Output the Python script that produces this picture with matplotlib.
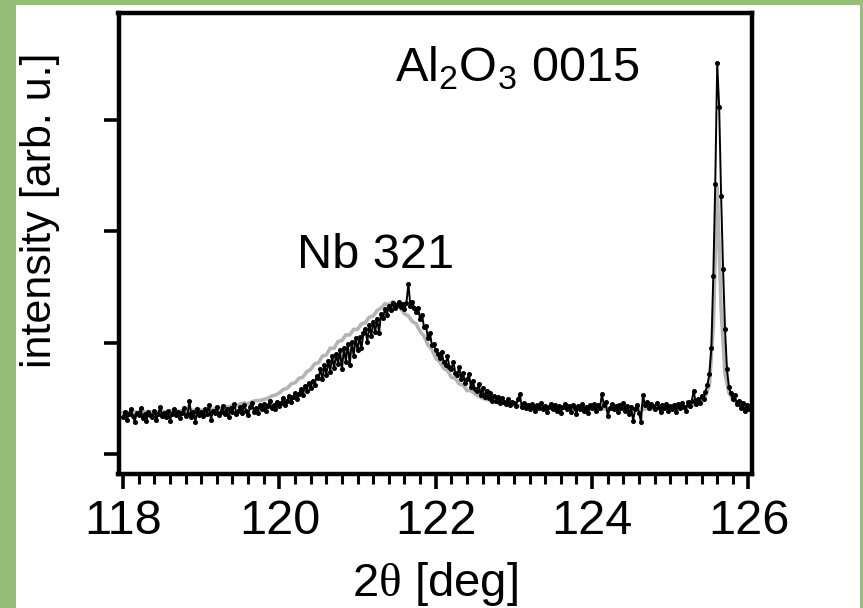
import numpy as np
import matplotlib
matplotlib.use("Agg")
import matplotlib.pyplot as plt
from matplotlib.patches import Rectangle
from matplotlib.ticker import MultipleLocator, NullFormatter

plt.rcParams["font.family"] = ["Liberation Sans", "DejaVu Sans"]
plt.rcParams["mathtext.fontset"] = "custom"
plt.rcParams["mathtext.rm"] = "Liberation Serif"
plt.rcParams["mathtext.sf"] = "Liberation Sans"

# 2theta scan of the Nb film (black, 0.025 deg steps from 118 deg)
scan_start = 118.0
film_step = 0.025
film_counts = [
    33, 38, 31, 36, 40, 34, 29, 37, 35, 41,
    32, 36, 30, 38, 35, 33, 39, 31, 36, 42,
    34, 37, 33, 39, 30, 36, 40, 35, 38, 32,
    37, 41, 34, 36, 48, 33, 38, 29, 40, 35,
    38, 34, 40, 36, 44, 31, 39, 37, 42, 35,
    38, 43, 36, 40, 33, 41, 38, 45, 36, 39,
    42, 37, 44, 39, 35, 42, 46, 38, 41, 37,
    44, 40, 45, 39, 43, 48, 41, 44, 40, 47,
    43, 46, 50, 44, 48, 52, 47, 51, 55, 49,
    54, 58, 53, 61, 57, 64, 59, 66, 62, 70,
    68, 76, 67, 80, 71, 84, 74, 88, 77, 90,
    81, 93, 76, 95, 83, 99, 80, 101, 88, 104,
    93, 105, 95, 109, 112, 101, 116, 106, 119, 110,
    121, 109, 126, 122, 130, 125, 133, 129, 136, 131,
    134, 137, 132, 135, 130, 136, 153, 133, 137, 131,
    128, 131, 121, 125, 114, 115, 104, 109, 98, 99,
    93, 90, 86, 92, 83, 80, 88, 78, 76, 83,
    73, 71, 78, 67, 73, 64, 67, 72, 60, 66,
    58, 57, 63, 53, 59, 51, 57, 50, 55, 48,
    52, 48, 51, 46, 50, 47, 45, 49, 44, 47,
    46, 43, 49, 54, 42, 46, 41, 44, 40, 45,
    42, 39, 44, 41, 46, 40, 43, 38, 42, 45,
    40, 44, 39, 43, 37, 42, 45, 40, 43, 38,
    44, 41, 36, 43, 40, 45, 39, 42, 37, 44,
    41, 45, 39, 44, 41, 54, 44, 47, 34, 41,
    45, 40, 43, 38, 44, 41, 46, 39, 43, 36,
    42, 30, 40, 44, 37, 29, 53, 44, 47, 41,
    45, 43, 40, 46, 42, 38, 44, 41, 45, 39,
    43, 40, 44, 38, 45, 41, 46, 42, 39, 47,
    43, 48, 57, 45, 49, 46, 52, 49, 56, 62,
    72, 95, 160, 243, 351, 312, 232, 166, 112, 76,
    60, 55, 49, 53, 45, 48, 41, 46, 39, 44,
    40,
]

# reference scan (grey, 0.05 deg steps from 118 deg)
ref_step = 0.05
ref_counts = [
    37, 38, 36, 38, 37, 39, 37, 38, 36, 38,
    39, 37, 38, 40, 38, 39, 38, 40, 39, 41,
    39, 40, 41, 40, 42, 41, 43, 42, 44, 43,
    45, 46, 45, 47, 48, 48, 49, 50, 52, 53,
    55, 58, 59, 63, 64, 68, 69, 74, 76, 81,
    82, 88, 89, 95, 95, 101, 102, 107, 107, 112,
    112, 117, 118, 123, 124, 129, 131, 135, 134, 137,
    133, 131, 126, 124, 119, 117, 110, 106, 98, 94,
    86, 83, 77, 75, 69, 68, 63, 62, 57, 57,
    54, 52, 50, 49, 48, 47, 46, 46, 45, 45,
    44, 43, 44, 43, 42, 43, 42, 43, 41, 42,
    42, 41, 42, 41, 40, 41, 40, 41, 40, 41,
    40, 41, 40, 41, 40, 41, 40, 41, 40, 41,
    41, 40, 41, 40, 41, 40, 41, 41, 40, 41,
    41, 42, 41, 42, 42, 43, 44, 45, 47, 52,
    62, 115, 240, 130, 72, 55, 49, 46, 44, 43,
    42,
]

x_ticks = [118, 120, 122, 124, 126]
y_ticks = [0, 100, 200, 300]

film_x = scan_start + film_step * np.arange(len(film_counts))
ref_x = scan_start + ref_step * np.arange(len(ref_counts))

fig = plt.figure(figsize=(8.63, 6.08), dpi=100)
fig.patch.set_facecolor("#97be78")
fig.patches.append(Rectangle((16 / 863, 0), (860 - 16) / 863, (608 - 5) / 608,
                             transform=fig.transFigure, facecolor="white",
                             edgecolor="none", zorder=-10))

ax = fig.add_axes([118.5 / 863, 1 - 473.5 / 608,
                   (752 - 118.5) / 863, (473.5 - 13) / 608])
ax.set_facecolor("white")

ax.plot(ref_x, ref_counts, color="#b4b4b4", lw=2.6, zorder=2)
ax.plot(film_x, film_counts, color="black", lw=1.4, marker="o", ms=2.6,
        zorder=3)

ax.set_xlim(117.942, 126.045)
ax.set_ylim(-17.5, 396.2)
ax.set_xticks(x_ticks)
ax.xaxis.set_minor_locator(MultipleLocator(0.2))
ax.set_yticks(y_ticks)
ax.yaxis.set_major_formatter(NullFormatter())

for side in ax.spines.values():
    side.set_linewidth(3.2)
ax.tick_params(axis="x", which="major", direction="out", length=11,
               width=2.6, labelsize=35, pad=7)
ax.tick_params(axis="x", which="minor", direction="out", length=7,
               width=2.2)
ax.tick_params(axis="y", which="major", direction="out", length=11,
               width=2.6)

ax.set_xlabel(r"2$\mathrm{\theta}$ [deg]", fontsize=34, labelpad=12)
ax.set_ylabel("intensity [arb. u.]", fontsize=31)
ax.yaxis.set_label_coords(-0.124, 0.572)
ax.yaxis.label.set_verticalalignment("center")

ax.text(0.4065, 0.446, "Nb 321", transform=ax.transAxes, fontsize=35,
        ha="center", va="baseline")
ax.text(0.630, 0.851, r"Al$_\mathsf{2}$O$_\mathsf{3}$ 0015",
        transform=ax.transAxes, fontsize=35, ha="center", va="baseline")

fig.savefig("out.png", dpi=100, facecolor=fig.get_facecolor())
